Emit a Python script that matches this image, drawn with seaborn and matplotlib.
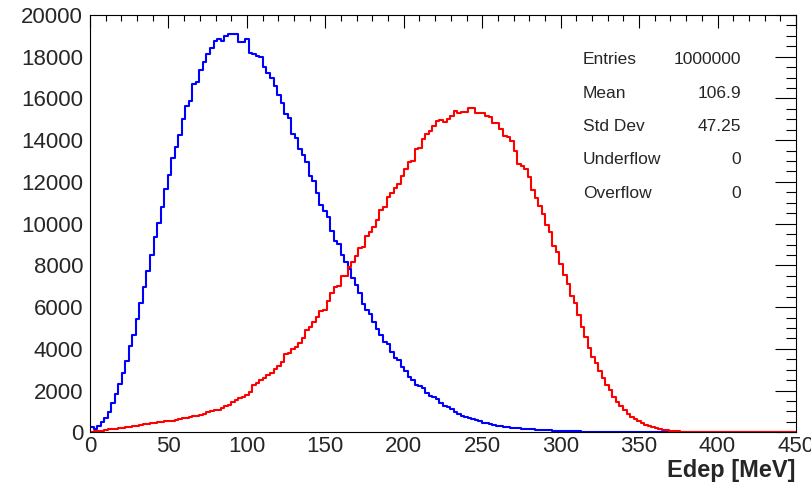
import numpy as np
import pandas as pd
import matplotlib
matplotlib.use("Agg")
import matplotlib.pyplot as plt
import seaborn as sns
from matplotlib.ticker import MultipleLocator

# ---- data: bin contents (200 bins, 0..450 MeV, width 2.25 MeV) ----
bin_edges = [i * 2.25 for i in range(201)]

blue_counts = [
    240, 160, 300, 480, 700, 960, 1390, 1820, 2300, 2820,
    3420, 4140, 4670, 5440, 6180, 6940, 7710, 8480, 9380, 10030,
    10780, 11680, 12350, 13150, 13660, 14240, 15000, 15630, 15900, 16700,
    16800, 17360, 17760, 18140, 18430, 18750, 18830, 18750, 18990, 19070,
    19100, 19100, 18700, 18700, 18830, 18190, 18110, 18030, 17980, 17500,
    17230, 16960, 16590, 16160, 15790, 15260, 15070, 14300, 14110, 13600,
    13280, 12940, 12270, 12030, 11470, 10900, 10590, 10310, 9630, 9150,
    9040, 8510, 8140, 7820, 7390, 7050, 6690, 6160, 5840, 5680,
    5310, 4940, 4670, 4330, 4220, 3850, 3570, 3450, 3130, 2950,
    2640, 2490, 2280, 2230, 2100, 1870, 1740, 1710, 1580, 1420,
    1260, 1200, 1100, 990, 880, 800, 750, 690, 620, 576,
    528, 464, 432, 384, 336, 320, 304, 272, 256, 224,
    208, 190, 180, 160, 150, 140, 130, 120, 110, 100,
    90, 80, 70, 65, 60, 55, 50, 45, 40, 36,
    32, 30, 28, 26, 24, 22, 20, 18, 16, 15,
    14, 12, 11, 10, 9, 8, 7, 6, 5, 5,
    4, 4, 3, 3, 3, 2, 2, 2, 2, 1,
    1, 1, 1, 1, 1, 0, 0, 0, 0, 0,
    0, 0, 0, 0, 0, 0, 0, 0, 0, 0,
    0, 0, 0, 0, 0, 0, 0, 0, 0, 0,
]

red_counts = [
    20, 40, 60, 80, 100, 140, 160, 180, 190, 200,
    240, 260, 290, 300, 350, 380, 400, 430, 450, 470,
    500, 520, 540, 560, 600, 640, 670, 700, 720, 760,
    800, 830, 900, 950, 1000, 1060, 1080, 1150, 1250, 1300,
    1450, 1540, 1630, 1700, 1800, 1950, 2270, 2350, 2510, 2590,
    2750, 2860, 3020, 3180, 3390, 3760, 3820, 3980, 4110, 4300,
    4510, 4910, 5040, 5310, 5520, 5790, 5870, 6270, 6670, 6960,
    6990, 7470, 7500, 7930, 8140, 8430, 8830, 8870, 9400, 9600,
    9840, 10190, 10660, 10810, 11280, 11480, 11690, 11890, 12300, 12620,
    12940, 12990, 13580, 13640, 14070, 14320, 14430, 14670, 14910, 14960,
    14860, 15020, 15180, 15380, 15310, 15340, 15340, 15550, 15550, 15280,
    15280, 15310, 15180, 15120, 14830, 14800, 14540, 14220, 14160, 13950,
    13470, 12880, 12780, 12620, 12240, 11600, 11230, 10830, 10480, 9950,
    9580, 8940, 8620, 8080, 7550, 7120, 6510, 6190, 5630, 5070,
    4590, 4030, 3630, 3310, 2940, 2590, 2270, 2030, 1710, 1470,
    1260, 1070, 860, 720, 640, 540, 430, 350, 290, 240,
    190, 160, 130, 100, 80, 60, 45, 35, 25, 18,
    12, 8, 6, 5, 4, 3, 2, 2, 1, 1,
    1, 0, 0, 0, 0, 0, 0, 0, 0, 0,
    0, 0, 0, 0, 0, 0, 0, 0, 0, 0,
]

stat_names = ["Entries", "Mean", "Std Dev", "Underflow", "Overflow"]
stat_values = ["1000000", "106.9", "47.25", "0", "0"]

x_ticks = [0, 50, 100, 150, 200, 250, 300, 350, 400, 450]
y_ticks = [0, 2000, 4000, 6000, 8000, 10000, 12000, 14000, 16000, 18000, 20000]

# ---- figure ----
sns.set_style("white")
plt.rcParams["font.family"] = ["Liberation Sans", "DejaVu Sans"]

W, H = 812, 488
fig = plt.figure(figsize=(W / 100, H / 100), dpi=100)
L, R, T, B = 90, 796, 15, 432.3
ax = fig.add_axes([L / W, 1 - B / H, (R - L) / W, (B - T) / H])

centers = [0.5 * (bin_edges[i] + bin_edges[i + 1]) for i in range(len(bin_edges) - 1)]
df = pd.DataFrame({
    "Edep": centers + centers,
    "w": blue_counts + red_counts,
    "series": ["blue"] * len(centers) + ["red"] * len(centers),
})

for name, col in [("blue", "#0000ff"), ("red", "#ff0000")]:
    sub = df[df["series"] == name]
    sns.histplot(data=sub, x="Edep", weights="w", bins=bin_edges,
                 element="step", fill=False, color=col, linewidth=1.5,
                 ax=ax)

ax.set_xlim(0, 450)
ax.set_ylim(0, 20000)
ax.set_xticks(x_ticks)
ax.set_xticklabels([str(t) for t in x_ticks])
ax.set_yticks(y_ticks)
ax.set_yticklabels([str(t) for t in y_ticks])
ax.xaxis.set_minor_locator(MultipleLocator(10))
ax.yaxis.set_minor_locator(MultipleLocator(500))

ax.tick_params(which="both", direction="in", top=True, right=True,
               color="black", width=0.8, labelsize=16)
ax.tick_params(axis="x", which="major", length=9, pad=3)
ax.tick_params(axis="x", which="minor", length=4.5)
ax.tick_params(axis="y", which="major", length=15, pad=5)
ax.tick_params(axis="y", which="minor", length=7.5)

for sp in ax.spines.values():
    sp.set_color("black")
    sp.set_linewidth(0.8)

ax.set_ylabel("")
ax.set_xlabel("Edep [MeV]", fontsize=17, fontweight="bold", loc="right")
ax.xaxis.label.set_va("baseline")
ax.xaxis.label.set_ha("right")
ax.xaxis.set_label_coords(1.0, -(477 - B) / (B - T))

# stats box text
baselines = [64.3, 97.6, 130.9, 164.2, 197.5]
for nm, val, yb in zip(stat_names, stat_values, baselines):
    yf = (B - yb) / (B - T)
    ax.text((583 - L) / (R - L), yf, nm, transform=ax.transAxes,
            ha="left", va="baseline", fontsize=12.5)
    ax.text((741 - L) / (R - L), yf, val, transform=ax.transAxes,
            ha="right", va="baseline", fontsize=12.5)

fig.savefig("out.png", dpi=100)
